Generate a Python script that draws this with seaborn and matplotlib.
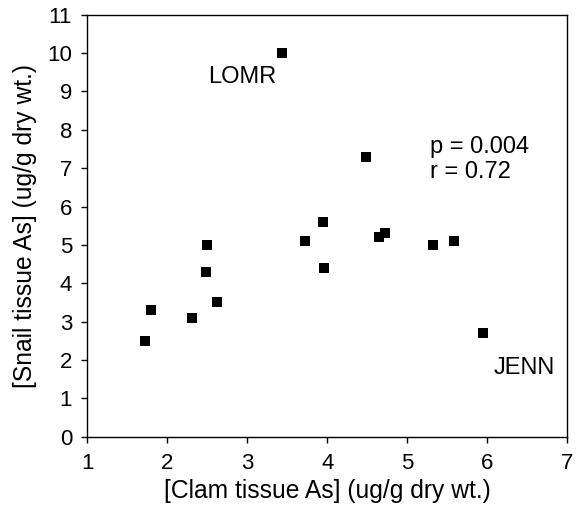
import matplotlib
matplotlib.use("Agg")
import matplotlib.pyplot as plt
import seaborn as sns
import pandas as pd

clam_as = [1.72, 1.80, 2.31, 2.48, 2.50, 2.62, 3.43, 3.72, 3.95, 3.96, 4.48, 4.65, 4.72, 5.32, 5.58, 5.95]
snail_as = [2.5, 3.3, 3.1, 4.3, 5.0, 3.5, 10.0, 5.1, 5.6, 4.4, 7.3, 5.2, 5.3, 5.0, 5.1, 2.7]
x_ticks = [1, 2, 3, 4, 5, 6, 7]
y_ticks = list(range(0, 12))

df = pd.DataFrame({"clam": clam_as, "snail": snail_as})

sns.set_theme(style="ticks")
plt.rcParams["font.family"] = ["Liberation Sans", "DejaVu Sans"]
plt.rcParams["text.color"] = "black"

fig = plt.figure(figsize=(5.76, 5.16), dpi=100)
ax = fig.add_axes([0.1516, 0.1537, 0.8334, 0.8178])

sns.scatterplot(data=df, x="clam", y="snail", marker="s", s=60, color="black",
                edgecolor="black", linewidth=0, ax=ax, legend=False)

ax.set_xlim(1, 7)
ax.set_ylim(0, 11)
ax.set_xticks(x_ticks)
ax.set_yticks(y_ticks)
ax.tick_params(axis="both", direction="out", length=4, width=1, color="black",
               labelsize=16, labelcolor="black")
ax.tick_params(axis="y", pad=7)
ax.tick_params(axis="x", pad=8)
for sp in ax.spines.values():
    sp.set_visible(True)
    sp.set_color("black")
    sp.set_linewidth(1)

ax.set_xlabel("[Clam tissue As] (ug/g dry wt.)", fontsize=17.7, color="black", labelpad=3)
ax.set_ylabel("[Snail tissue As] (ug/g dry wt.)", fontsize=17.7, color="black", labelpad=7)

ax.text(2.51, 9.37, "LOMR", fontsize=17, va="center", ha="left", color="black")
ax.text(6.08, 1.8, "JENN", fontsize=17, va="center", ha="left", color="black")
ax.text(5.28, 7.56, "p = 0.004", fontsize=17, va="center", ha="left", color="black")
ax.text(5.28, 6.91, "r = 0.72", fontsize=17, va="center", ha="left", color="black")

fig.savefig("out.png", dpi=100)
